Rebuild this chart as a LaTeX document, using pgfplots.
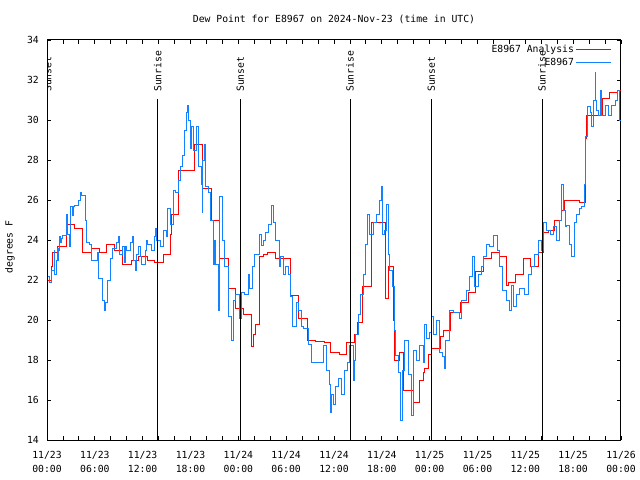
\documentclass[border=0pt]{standalone}
\usepackage{pgfplots}
\pgfplotsset{compat=1.18}
\usepackage{fontspec}
\setmainfont{DejaVu Sans Mono}
\setmonofont{DejaVu Sans Mono}
\definecolor{obsblue}{RGB}{20,130,255}
\newcommand{\gfont}{\fontsize{9.8}{14}\selectfont}
\begin{document}
\gfont
\begin{tikzpicture}
\useasboundingbox (0,0) rectangle (640bp,480bp);
\begin{axis}[
  at={(47bp,40bp)}, anchor=south west,
  scale only axis, width=574bp, height=400bp,
  xmin=0, xmax=72, ymin=14, ymax=34,
  xtick={0,6,...,72}, minor x tick num=2,
  ytick={14,16,...,34},
  xticklabels={{11/23\\00:00},{11/23\\06:00},{11/23\\12:00},{11/23\\18:00},
    {11/24\\00:00},{11/24\\06:00},{11/24\\12:00},{11/24\\18:00},
    {11/25\\00:00},{11/25\\06:00},{11/25\\12:00},{11/25\\18:00},{11/26\\00:00}},
  xticklabel style={align=center, inner sep=0pt, yshift=-11bp, font=\gfont},
  yticklabel style={inner sep=0pt, xshift=-8bp, font=\gfont},
  /pgf/number format/assume math mode=true,
  tick align=inside, major tick length=4bp, minor tick length=4bp,
  tick style={black, line width=0.8bp},
  axis line style={line width=1bp},
  legend plot pos=right,
  legend cell align=right,
  legend image code/.code={\path (0bp,0bp) -- (7bp,0bp);
    \draw[#1] (7bp,0bp) -- (35bp,0bp);},
  legend style={draw=none, fill=none, at={(1,1)}, anchor=north east,
    xshift=-9bp, yshift=-3bp, inner sep=0pt, row sep=0pt,
    nodes={inner sep=2bp, text height=7bp, text depth=2bp, font=\gfont}},
]
\addplot[const plot, red, line width=0.9bp] coordinates {
(0,22.0)(0.5,22.7)(0.65,23.4)(1.35,23.7)(2.4,24.8)(3.45,24.6)(4.5,23.4)(5.55,23.6)
(6.6,23.4)(7.45,23.8)(8.5,23.5)(9.5,22.8)(10.55,23.0)(11.5,23.2)(12.65,23.0)(13.5,22.9)
(14.55,23.3)(15.45,24.3)(15.6,25.3)(16.55,27.5)(18.45,28.8)(19.5,26.6)(20.6,25.0)
(21.65,23.1)(22.7,21.6)(23.7,20.6)(24.6,20.3)(25.6,18.7)(25.9,19.3)(26.15,19.8)
(26.6,23.2)(27.1,23.3)(27.6,23.4)(28.6,23.1)(30.55,21.25)(31.5,20.1)(32.7,19.0)
(33.7,18.95)(34.8,18.9)(35.6,18.4)(36.7,18.3)(37.6,18.9)(38.6,19.3)(38.9,19.9)
(39.55,21.7)(40.7,24.9)(42.4,21.1)(42.8,22.7)(43.4,20.0)(43.6,18.0)(44.25,18.4)
(44.7,16.5)(46.0,15.9)(46.75,17.0)(47.2,17.4)(47.4,17.6)(47.8,18.3)(48.2,18.6)
(49.3,19.2)(49.7,19.5)(50.55,20.4)(51.8,20.9)(52.85,21.4)(53.7,22.45)(54.7,23.1)
(55.75,23.4)(56.8,23.2)(57.65,21.75)(57.85,21.9)(58.7,22.3)(59.75,23.1)(60.6,22.7)
(61.6,23.4)(62.25,24.4)(62.9,24.5)(63.7,25.0)(64.55,25.5)(64.85,26.0)(66.85,25.9)
(67.6,29.1)(67.7,30.25)(69.7,31.1)(70.6,31.4)(71.55,31.5)(72,31.5)
};
\addlegendentry{E8967 Analysis}
\addplot[const plot, obsblue, line width=0.9bp] coordinates {
(0,21.8)(0.1,22.2)(0.3,21.9)(0.52,22.5)(0.9,23.5)(0.98,22.3)(1.23,23.0)(1.35,23.6)
(1.42,23.0)(1.49,23.5)(1.6,24.2)(1.7,23.9)(1.78,24.1)(1.99,24.25)(2.41,25.3)(2.62,24.3)
(2.85,23.7)(2.91,25.7)(3.16,25.25)(3.3,25.7)(3.45,25.75)(4.0,26.0)(4.15,26.4)(4.29,26.25)
(4.79,25.0)(5.0,23.9)(5.33,23.8)(5.63,23.0)(6.38,23.4)(6.51,22.1)(7.01,21.0)(7.15,20.5)
(7.3,20.9)(7.64,22.0)(7.93,23.1)(8.26,23.6)(8.68,23.9)(8.9,24.2)(9.1,23.3)(9.52,23.7)
(9.7,22.9)(9.8,23.7)(9.94,23.5)(10.44,23.9)(10.7,24.2)(10.9,23.0)(11.05,22.5)(11.19,23.3)
(11.49,23.7)(11.7,23.2)(11.82,22.8)(12.36,23.5)(12.5,24.0)(12.66,23.8)(13.08,23.5)
(13.49,24.2)(13.6,24.6)(13.79,24.0)(14.2,23.7)(14.62,24.5)(14.96,24.2)(15.17,25.6)
(15.46,24.8)(15.8,26.5)(16.13,26.4)(16.55,27.0)(16.8,27.7)(16.97,28.25)(17.26,29.5)
(17.47,30.4)(17.6,30.75)(17.76,30.0)(17.95,28.6)(18.1,29.7)(18.39,28.5)(18.72,29.7)
(19.02,27.7)(19.35,26.8)(19.45,25.4)(19.56,28.0)(19.7,28.8)(19.85,26.7)(20.19,26.4)
(20.48,25.0)(20.82,22.8)(21.0,24.0)(21.15,22.8)(21.45,20.5)(21.6,26.2)(21.99,24.0)
(22.28,22.7)(22.7,20.2)(23.12,19.0)(23.41,21.0)(23.66,21.3)(24.08,20.1)(24.37,21.4)
(24.79,21.3)(25.21,22.3)(25.42,21.6)(25.76,22.7)(26.05,23.3)(26.59,24.3)(26.88,23.75)
(27.09,24.0)(27.43,24.4)(27.72,24.8)(28.14,25.75)(28.35,24.9)(28.68,24.0)(29.1,22.7)
(29.27,23.2)(29.6,22.3)(29.94,22.7)(30.23,22.3)(30.53,21.2)(30.78,19.7)(31.28,20.9)
(31.49,20.5)(31.91,19.7)(32.2,19.6)(32.74,18.8)(33.16,17.9)(34.63,18.75)(35.04,17.5)
(35.38,16.8)(35.6,15.4)(35.67,16.3)(35.96,15.8)(36.22,16.7)(36.51,17.1)(36.93,16.3)
(37.34,17.5)(37.64,17.9)(37.97,18.75)(38.39,17.0)(38.55,18.0)(38.73,19.3)(39.02,20.3)
(39.31,21.3)(39.65,22.3)(39.98,23.8)(40.15,25.3)(40.48,24.3)(40.9,24.9)(41.32,25.3)
(41.74,26.0)(41.9,26.7)(42.03,24.3)(42.37,24.5)(42.58,25.8)(42.78,23.3)(42.99,22.5)
(43.33,21.7)(43.54,19.5)(43.75,18.25)(44.04,17.4)(44.33,15.0)(44.58,17.5)(44.88,19.0)
(45.3,17.3)(45.71,15.25)(46.01,18.5)(46.34,18.0)(46.77,18.75)(47.19,17.9)(47.4,19.8)
(47.61,19.1)(47.94,19.4)(48.23,20.2)(48.53,19.3)(48.86,20.0)(49.28,18.4)(49.62,18.2)
(49.91,17.6)(49.95,18.2)(50.03,19.0)(50.54,20.5)(50.95,20.4)(51.71,20.1)(52.0,21.0)
(52.63,21.5)(52.96,22.2)(53.38,23.2)(53.67,21.7)(54.09,22.3)(54.51,22.7)(54.8,23.2)
(55.14,23.8)(55.56,23.7)(56.06,24.25)(56.48,23.5)(56.81,22.7)(57.15,21.5)(57.57,21.0)
(57.98,20.5)(58.28,21.75)(58.57,20.7)(58.9,21.3)(59.24,21.6)(59.95,21.3)(60.37,22.3)
(60.79,22.7)(61.2,23.3)(61.62,24.0)(62.04,23.5)(62.33,24.9)(62.67,24.5)(63.09,24.3)
(63.51,24.7)(63.92,24.0)(64.26,25.0)(64.55,26.8)(64.76,25.5)(64.97,24.7)(65.18,24.75)
(65.51,23.8)(65.81,23.2)(66.1,24.9)(66.44,25.3)(66.77,25.6)(67.06,25.7)(67.36,26.8)
(67.57,29.2)(67.77,30.7)(68.11,30.4)(68.32,29.7)(68.53,31.0)(68.74,32.4)(68.8,31.0)
(68.86,30.5)(69.15,30.25)(69.36,31.5)(69.57,30.25)(69.99,30.75)(70.41,30.25)
(70.83,30.75)(71.25,31.0)(71.54,31.5)(71.79,30.0)(72,30.0)
};
\addlegendentry{E8967}
% sunrise / sunset markers
\addplot[black, line width=0.8bp, forget plot] coordinates {(0.1,14) (0.1,31.05)};
\addplot[black, line width=0.8bp, forget plot] coordinates {(13.9,14) (13.9,31.05)};
\addplot[black, line width=0.8bp, forget plot] coordinates {(24.25,14) (24.25,31.05)};
\addplot[black, line width=0.8bp, forget plot] coordinates {(38.0,14) (38.0,31.05)};
\addplot[black, line width=0.8bp, forget plot] coordinates {(48.2,14) (48.2,31.05)};
\addplot[black, line width=0.8bp, forget plot] coordinates {(62.1,14) (62.1,31.05)};
\node[rotate=90, anchor=west, inner sep=0pt, xshift=1bp] at (axis cs:0.1,31.35) {Sunset};
\node[rotate=90, anchor=west, inner sep=0pt, xshift=1bp] at (axis cs:13.9,31.35) {Sunrise};
\node[rotate=90, anchor=west, inner sep=0pt, xshift=1bp] at (axis cs:24.25,31.35) {Sunset};
\node[rotate=90, anchor=west, inner sep=0pt, xshift=1bp] at (axis cs:38.0,31.35) {Sunrise};
\node[rotate=90, anchor=west, inner sep=0pt, xshift=1bp] at (axis cs:48.2,31.35) {Sunset};
\node[rotate=90, anchor=west, inner sep=0pt, xshift=1bp] at (axis cs:62.1,31.35) {Sunrise};
\end{axis}
\node at (334bp,461bp) {Dew Point for E8967 on 2024-Nov-23 (time in UTC)};
\node[rotate=90] at (10bp,233bp) {degrees F};
\end{tikzpicture}
\end{document}
